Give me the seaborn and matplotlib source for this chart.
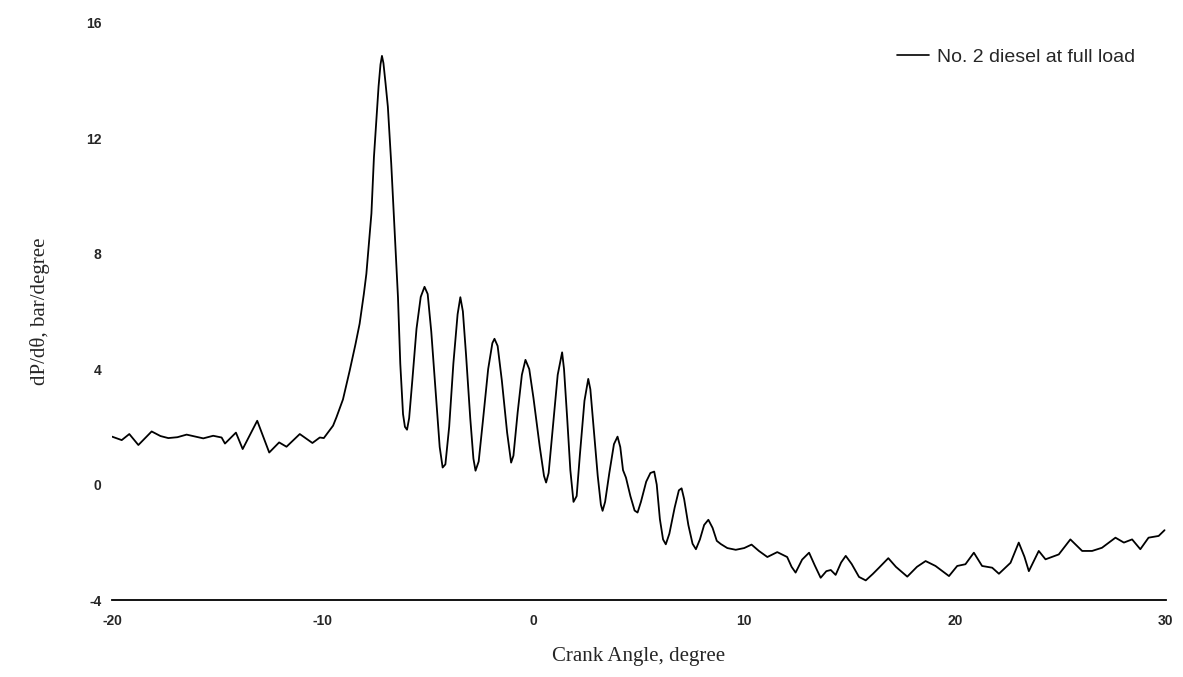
import matplotlib
matplotlib.use("Agg")
import matplotlib.pyplot as plt
import seaborn as sns
import pandas as pd

crank_angle = [
    -20.0, -19.54, -19.18, -18.75, -18.12, -17.7, -17.33, -16.9, -16.46, -15.67,
    -15.2, -14.8, -14.64, -14.12, -13.8, -13.11, -12.54, -12.07, -11.72, -11.09,
    -10.49, -10.14, -9.95, -9.51, -9.35, -9.04, -8.72, -8.45, -8.25, -8.05,
    -7.93, -7.69, -7.57, -7.45, -7.35, -7.26, -7.19, -7.12, -7.02, -6.91,
    -6.75, -6.59, -6.43, -6.32, -6.19, -6.1, -6.0, -5.9, -5.75, -5.55,
    -5.35, -5.17, -5.02, -4.85, -4.65, -4.45, -4.31, -4.18, -4.0, -3.8,
    -3.6, -3.47, -3.35, -3.2, -3.0, -2.85, -2.75, -2.6, -2.4, -2.15,
    -1.95, -1.85, -1.7, -1.5, -1.25, -1.06, -0.95, -0.75, -0.55, -0.38,
    -0.2, 0.0, 0.3, 0.5, 0.6, 0.72, 0.95, 1.15, 1.36, 1.45,
    1.6, 1.75, 1.9, 2.05, 2.2, 2.42, 2.6, 2.7, 2.85, 3.05,
    3.2, 3.28, 3.4, 3.6, 3.82, 3.99, 4.12, 4.25, 4.39, 4.6,
    4.8, 4.94, 5.1, 5.35, 5.55, 5.73, 5.85, 6.0, 6.15, 6.28,
    6.45, 6.7, 6.9, 7.03, 7.15, 7.35, 7.55, 7.71, 7.9, 8.1,
    8.3, 8.5, 8.7, 8.89, 9.2, 9.6, 10.0, 10.35, 10.7, 11.1,
    11.57, 12.04, 12.25, 12.44, 12.75, 13.08, 13.35, 13.63, 13.9, 14.11,
    14.34, 14.6, 14.82, 15.1, 15.45, 15.77, 16.1, 16.4, 16.84, 17.2,
    17.74, 18.2, 18.61, 19.08, 19.72, 20.11, 20.5, 20.9, 21.29, 21.77,
    22.09, 22.64, 23.03, 23.3, 23.51, 23.98, 24.3, 24.93, 25.48, 26.04,
    26.51, 26.98, 27.62, 28.02, 28.41, 28.8, 29.19, 29.67, 29.95,
]
dp_dtheta = [
    1.66, 1.54, 1.75, 1.37, 1.84, 1.68, 1.61, 1.64, 1.73, 1.60,
    1.69, 1.63, 1.42, 1.80, 1.23, 2.21, 1.11, 1.46, 1.31, 1.75,
    1.44, 1.63, 1.61, 2.04, 2.33, 2.95, 3.95, 4.85, 5.57, 6.6,
    7.3, 9.39, 11.35, 12.7, 13.8, 14.55, 14.85, 14.6, 13.9, 13.09,
    11.12, 8.81, 6.49, 4.18, 2.44, 2.0, 1.9, 2.3, 3.6, 5.4,
    6.5, 6.85, 6.6, 5.3, 3.3, 1.3, 0.59, 0.7, 2.0, 4.2,
    5.9, 6.49, 6.0, 4.5, 2.3, 0.9, 0.48, 0.8, 2.2, 4.0,
    4.9, 5.05, 4.8, 3.6, 1.8, 0.76, 1.0, 2.5, 3.8, 4.32,
    4.0, 3.0, 1.3, 0.3, 0.07, 0.4, 2.2, 3.8, 4.58, 4.0,
    2.3, 0.5, -0.6, -0.4, 1.0, 2.9, 3.66, 3.3, 2.0, 0.3,
    -0.7, -0.91, -0.6, 0.4, 1.4, 1.66, 1.3, 0.5, 0.24, -0.4,
    -0.9, -0.97, -0.6, 0.1, 0.4, 0.45, 0.0, -1.2, -1.9, -2.07,
    -1.7, -0.8, -0.2, -0.13, -0.5, -1.4, -2.05, -2.24, -1.9, -1.4,
    -1.22, -1.5, -1.95, -2.06, -2.2, -2.26, -2.2, -2.08, -2.3, -2.51,
    -2.34, -2.51, -2.85, -3.05, -2.6, -2.36, -2.8, -3.23, -3.0, -2.96,
    -3.13, -2.7, -2.47, -2.75, -3.2, -3.32, -3.1, -2.88, -2.55, -2.85,
    -3.19, -2.85, -2.65, -2.82, -3.17, -2.82, -2.76, -2.36, -2.82, -2.88,
    -3.09, -2.71, -2.01, -2.5, -3.0, -2.3, -2.59, -2.42, -1.9, -2.3,
    -2.3, -2.19, -1.84, -2.01, -1.9, -2.24, -1.84, -1.78, -1.58,
]
series_label = "No. 2 diesel at full load"
x_ticks = [-20, -10, 0, 10, 20, 30]
y_ticks = [-4, 0, 4, 8, 12, 16]
x_label = "Crank Angle, degree"
y_label = "dP/dθ, bar/degree"

sns.set_style("white")
plt.rcParams['font.family'] = ['Liberation Sans', 'DejaVu Sans']
plt.rcParams['axes.unicode_minus'] = False

df = pd.DataFrame({"angle": crank_angle, "rate": dp_dtheta})

fig = plt.figure(figsize=(11.83, 6.77), dpi=100)
ax = fig.add_axes([0.0947, 0.1137, 0.8906, 0.8528])
sns.lineplot(data=df, x="angle", y="rate", ax=ax, color="black", linewidth=1.3,
             label=series_label, sort=False)

ax.set_xlim(-20, 30)
ax.set_ylim(-4, 16)
ax.set_xticks(x_ticks)
ax.set_yticks(y_ticks)
for s in ["top", "right", "left"]:
    ax.spines[s].set_visible(False)
ax.spines["bottom"].set_color("black")
ax.spines["bottom"].set_linewidth(1.3)

ax.tick_params(axis="x", length=0, pad=10, labelsize=10)
ax.tick_params(axis="y", length=2.5, width=1.5, direction="out", pad=5,
               labelsize=10, color="black")
for lab in ax.get_xticklabels() + ax.get_yticklabels():
    lab.set_fontweight("bold")

ax.set_xlabel(x_label, family=["Liberation Serif"], fontsize=15, labelpad=14)
ax.set_ylabel(y_label, family=["Liberation Serif"], fontsize=15, labelpad=26)

leg = ax.legend(loc="center right", bbox_to_anchor=(0.9594, 0.9158),
                bbox_transform=fig.transFigure, frameon=False, fontsize=14,
                handlelength=1.65, handletextpad=0.4, borderpad=0, borderaxespad=0)
for h in leg.get_lines():
    h.set_linewidth(1.2)

fig.savefig("out.png", dpi=100)
